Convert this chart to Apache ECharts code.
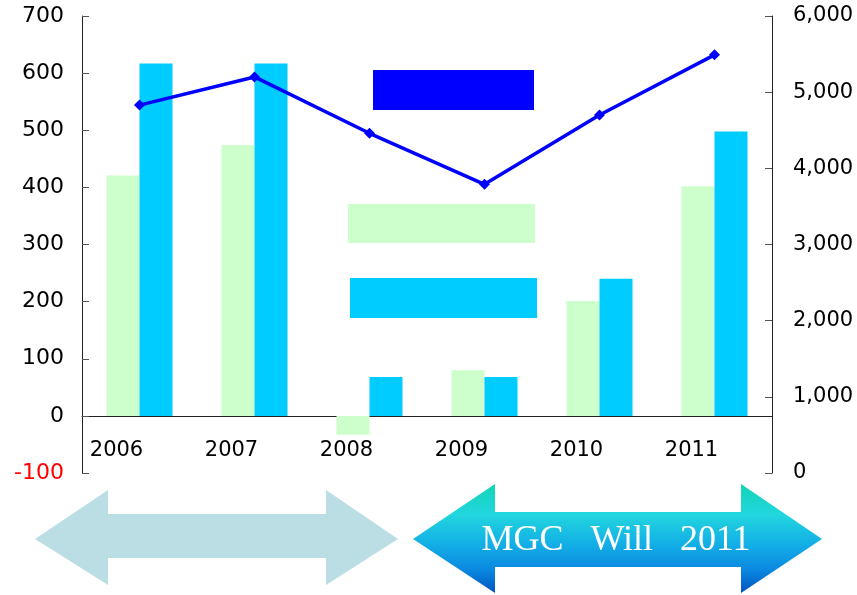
<!DOCTYPE html>
<html>
<head>
<meta charset="utf-8">
<script src="https://cdn.jsdelivr.net/npm/echarts@6/dist/echarts.min.js"></script>
<style>
  html, body { margin: 0; padding: 0; background: #fff; }
  #main { width: 857px; height: 595px; }
</style>
</head>
<body>
<div id="main"></div>
<script>
// 图表数据
var years = ['2006', '2007', '2008', '2009', '2010', '2011'];
var greenValues = [421, 474, -33, 80, 201, 402];     // 左轴 - 浅绿柱
var cyanValues = [617, 617, 68, 68, 240, 498];       // 左轴 - 青色柱
var lineValues = [4830, 5200, 4460, 3790, 4700, 5490]; // 右轴 - 折线
var leftTicks = { min: -100, max: 700, step: 100 };
var rightTicks = { min: 0, max: 6000, step: 1000 };
var bannerText = 'MGC   Will   2011';

var chart = echarts.init(document.getElementById('main'));
var axisFont = 'DejaVu Sans';

var option = {
  animation: false,
  backgroundColor: '#fff',
  grid: { left: 82, right: 85, top: 16, bottom: 122 },
  legend: [
    { data: ['line'], left: 373, top: 70, itemWidth: 161, itemHeight: 40, icon: 'rect', padding: 0, formatter: function () { return ''; }, selectedMode: false },
    { data: ['green'], left: 348, top: 204, itemWidth: 187, itemHeight: 39, icon: 'rect', padding: 0, formatter: function () { return ''; }, selectedMode: false },
    { data: ['cyan'], left: 350, top: 278, itemWidth: 187, itemHeight: 40, icon: 'rect', padding: 0, formatter: function () { return ''; }, selectedMode: false }
  ],
  xAxis: {
    type: 'category',
    data: years,
    position: 'bottom',
    offset: -57,   // 横轴放在左轴0刻度处
    axisLine: { onZero: false, lineStyle: { color: '#222', width: 1 } },
    axisTick: { inside: true, length: 8, lineStyle: { color: '#555' } },
    axisLabel: { color: '#000', fontFamily: axisFont, fontSize: 21, margin: 24, padding: [0, 46, 0, 0] }
  },
  yAxis: [
    {
      type: 'value',
      min: leftTicks.min, max: leftTicks.max, interval: leftTicks.step,
      splitLine: { show: false },
      axisLine: { show: true, lineStyle: { color: '#222' } },
      axisTick: { show: true, inside: true, length: 7, lineStyle: { color: '#555' } },
      axisLabel: {
        fontFamily: axisFont, fontSize: 22, margin: 18,
        color: function (v) { return Number(v) < 0 ? '#ff0000' : '#000'; },
        formatter: function (v) { return v < 0 ? '-' + Math.abs(v) : String(v); }
      }
    },
    {
      type: 'value',
      position: 'right',
      min: rightTicks.min, max: rightTicks.max, interval: rightTicks.step,
      splitLine: { show: false },
      axisLine: { show: true, lineStyle: { color: '#222' } },
      axisTick: { show: true, inside: true, length: 7, lineStyle: { color: '#555' } },
      axisLabel: {
        color: '#000', fontFamily: axisFont, fontSize: 21, margin: 21,
        formatter: function (v) { return v.toLocaleString('en-US'); }
      }
    }
  ],
  series: [
    { name: 'green', type: 'bar', yAxisIndex: 0, data: greenValues, barWidth: 33, barGap: '0%', itemStyle: { color: '#ccffcc' } },
    { name: 'cyan', type: 'bar', yAxisIndex: 0, data: cyanValues, barWidth: 33, barGap: '0%', itemStyle: { color: '#00ccff' } },
    {
      name: 'line', type: 'line', yAxisIndex: 1, data: lineValues,
      symbol: 'diamond', symbolSize: 11,
      lineStyle: { color: '#0000ff', width: 3.5 },
      itemStyle: { color: '#0000ff' }
    }
  ],
  graphic: [
    {
      type: 'polygon',
      shape: { points: [[35, 539], [108, 490], [108, 514], [326, 514], [326, 490], [398, 539], [326, 585], [326, 558], [108, 558], [108, 585]] },
      style: { fill: '#badee3' }
    },
    {
      type: 'polygon',
      shape: { points: [[413, 539], [495, 484], [495, 512], [741, 512], [741, 484], [822, 539], [741, 593], [741, 567], [495, 567], [495, 593]] },
      style: {
        fill: new echarts.graphic.LinearGradient(0, 0, 0, 1, [
          { offset: 0, color: '#12d4b6' },
          { offset: 0.28, color: '#22d6de' },
          { offset: 0.55, color: '#13afe6' },
          { offset: 0.8, color: '#0a86e0' },
          { offset: 1, color: '#0052bd' }
        ])
      }
    },
    {
      type: 'text',
      x: 616, y: 541,
      style: {
        text: bannerText, fill: '#ffffff',
        font: '36px "Liberation Serif"',
        align: 'center', verticalAlign: 'middle'
      }
    }
  ]
};

chart.setOption(option);
</script>
</body>
</html>
